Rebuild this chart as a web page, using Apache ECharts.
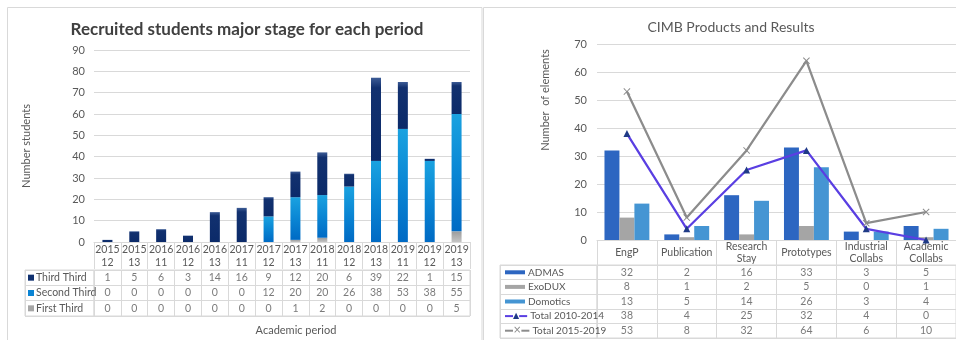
<!DOCTYPE html>
<html>
<head>
<meta charset="utf-8">
<script src="https://cdn.jsdelivr.net/npm/echarts@6/dist/echarts.min.js"></script>
<style>
  html, body { margin: 0; padding: 0; background: #fff; }
  #main { width: 956px; height: 340px; }
</style>
</head>
<body>
<div id="main"></div>
<script>
// ---- left chart data ----
const periodYears = ['2015', '2015', '2016', '2016', '2016', '2017', '2017', '2017', '2018', '2018', '2018', '2019', '2019', '2019']
const periodTerms = ['12', '13', '11', '12', '13', '11', '12', '13', '11', '12', '13', '11', '12', '13']
const thirdThird = [1, 5, 6, 3, 14, 16, 9, 12, 20, 6, 39, 22, 1, 15]
const secondThird = [0, 0, 0, 0, 0, 0, 12, 20, 20, 26, 38, 53, 38, 55]
const firstThird = [0, 0, 0, 0, 0, 0, 0, 1, 2, 0, 0, 0, 0, 5]
const studentTicks = {min: 0, max: 90, interval: 10}

// ---- right chart data ----
const products = ['EngP', 'Publication', 'Research\nStay', 'Prototypes', 'Industrial\nCollabs', 'Academic\nCollabs']
const admas = [32, 2, 16, 33, 3, 5]
const exodux = [8, 1, 2, 5, 0, 1]
const domotics = [13, 5, 14, 26, 3, 4]
const total1014 = [38, 4, 25, 32, 4, 0]
const total1519 = [53, 8, 32, 64, 6, 10]
const elementTicks = {min: 0, max: 70, interval: 10}

const periods = periodYears.map((y, i) => y + '\n' + periodTerms[i])

const FONT = 'Lato'
const TXT = '#595959'
const LINE = '#d9d9d9'
const TFS = 10.5 // 表格字号

// 渐变色（仿 Excel 填充）
const grad = (stops) => ({
  type: 'linear', x: 0, y: 0, x2: 0, y2: 1,
  colorStops: stops.map((c) => ({offset: c[0], color: c[1]}))
})
const colThird = grad([[0, '#3d5c96'], [0.12, '#12316f'], [1, '#0b2a69']])
const colSecond = grad([[0, '#1aa2e0'], [0.5, '#0a86d4'], [1, '#006ac4']])
const colFirst = grad([[0, '#9c9c9c'], [1, '#c4c4c4']])

// 表格行（左）
const leftRows = [
  {name: 'Third Third', values: thirdThird, key: '#10306f'},
  {name: 'Second Third', values: secondThird, key: '#0a84d4'},
  {name: 'First Third', values: firstThird, key: '#a6a6a6'},
]
// 表格行（右）
const rightRows = [
  {name: 'ADMAS', values: admas, color: '#2d66c1'},
  {name: 'ExoDUX', values: exodux, color: '#a5a5a5'},
  {name: 'Domotics', values: domotics, color: '#4595d3'},
  {name: 'Total 2010-2014', values: total1014, color: '#5a3fe2', marker: '#1f3a86'},
  {name: 'Total 2015-2019', values: total1519, color: '#8c8c8c', marker: '#8c8c8c'},
]

const cellData = (rows) => {
  const out = []
  rows.forEach((r, ri) => r.values.forEach((v, ci) => out.push([ci, ri, v])))
  return out
}

const tableXAxis = (gridIndex, data) => ({
  type: 'category', gridIndex, data,
  axisLine: {show: false}, axisTick: {show: false}, axisLabel: {show: false},
  splitLine: {show: true, interval: 0, lineStyle: {color: LINE}}
})
const tableYAxis = (gridIndex, data, label) => ({
  type: 'category', gridIndex, data, inverse: true,
  axisLine: {show: false}, axisTick: {show: false},
  axisLabel: label || {show: false},
  splitLine: {show: true, interval: 0, lineStyle: {color: LINE}}
})
const cellSeries = (xi, yi, rows) => ({
  type: 'scatter', xAxisIndex: xi, yAxisIndex: yi, silent: true,
  symbolSize: 0, data: cellData(rows),
  label: {
    show: true, position: 'inside', fontFamily: FONT, fontSize: TFS, color: TXT,
    formatter: (p) => String(p.value[2])
  }
})

// 左侧行标签（小方块 + 名称）
const leftRich = {t: {fontFamily: FONT, fontSize: TFS, color: TXT, padding: [0, 0, 0, 2]}}
leftRows.forEach((r, i) => { leftRich['k' + i] = {width: 6, height: 6, backgroundColor: r.key} })

// 右侧行标签（图例样式）
const rightRich = {t: {fontFamily: FONT, fontSize: 10, color: TXT, padding: [0, 0, 0, 3]}}
rightRows.forEach((r, i) => {
  if (r.marker) {
    rightRich['l' + i] = {width: 8, height: 2, backgroundColor: r.color}
    rightRich['m' + i] = {fontSize: i === 3 ? 8 : 10, color: r.marker, fontFamily: 'DejaVu Sans'}
  } else {
    rightRich['l' + i] = {width: 20, height: 4, backgroundColor: r.color}
  }
})

const productRich = {
  one: {fontFamily: FONT, fontSize: TFS, color: TXT, lineHeight: 24},
  two: {fontFamily: FONT, fontSize: TFS, color: TXT, lineHeight: 12}
}

const option = {
  animation: false,
  textStyle: {fontFamily: FONT},
  graphic: [
    {type: 'rect', shape: {x: 7.5, y: 7.5, width: 474.5, height: 345}, style: {fill: 'none', stroke: LINE, lineWidth: 1}},
    {type: 'rect', shape: {x: 483.5, y: 7.5, width: 480, height: 345}, style: {fill: 'none', stroke: LINE, lineWidth: 1}},
    {type: 'text', x: 296, y: 330, style: {text: 'Academic period', font: '11px Lato', fill: TXT, align: 'center', verticalAlign: 'middle'}},
    {type: 'text', x: 545, y: 100, rotation: Math.PI / 2, style: {text: 'Number  of elements', font: '11px Lato', fill: TXT, align: 'center', verticalAlign: 'middle'}}
  ],
  title: [
    {
      text: 'Recruited students major stage for each period',
      left: 242, top: 16, textAlign: 'center',
      textStyle: {fontFamily: FONT, fontSize: 17, fontWeight: 'bold', color: '#404040'}
    },
    {
      text: 'CIMB Products and Results',
      left: 726, top: 15, textAlign: 'center',
      textStyle: {fontFamily: FONT, fontSize: 14, fontWeight: 'normal', color: TXT}
    }
  ],
  grid: [
    {left: 94, right: 486, top: 50, bottom: 98},
    {left: 94, right: 486, top: 270, height: 46, show: true, borderColor: LINE, borderWidth: 1},
    {left: 25, width: 69, top: 270, height: 46, show: true, borderColor: LINE, borderWidth: 1},
    {left: 597, right: 0, top: 44, bottom: 100},
    {left: 597, right: 0, top: 265, height: 73, show: true, borderColor: LINE, borderWidth: 1},
    {left: 500, width: 97, top: 265, height: 73, show: true, borderColor: LINE, borderWidth: 1}
  ],
  xAxis: [
    {
      type: 'category', gridIndex: 0, data: periods,
      axisLine: {lineStyle: {color: LINE}},
      axisTick: {show: true, interval: 0, length: 27, lineStyle: {color: LINE}},
      axisLabel: {interval: 0, fontFamily: FONT, fontSize: TFS, color: TXT, lineHeight: 13, margin: 1}
    },
    tableXAxis(1, periods),
    tableXAxis(2, ['']),
    {
      type: 'category', gridIndex: 3, data: products,
      axisLine: {lineStyle: {color: LINE}},
      axisTick: {show: true, interval: 0, length: 25, lineStyle: {color: LINE}},
      axisLabel: {
        interval: 0, margin: 1, rich: productRich,
        formatter: (v) => v.indexOf('\n') >= 0
          ? v.split('\n').map(s => '{two|' + s + '}').join('\n')
          : '{one|' + v + '}'
      }
    },
    tableXAxis(4, products),
    tableXAxis(5, [''])
  ],
  yAxis: [
    {
      type: 'value', gridIndex: 0, ...studentTicks,
      name: 'Number students', nameLocation: 'middle', nameGap: 62,
      nameTextStyle: {fontFamily: FONT, fontSize: 11, color: TXT},
      axisLine: {show: false}, axisTick: {show: false},
      axisLabel: {fontFamily: FONT, fontSize: 11, color: TXT, margin: 9},
      splitLine: {lineStyle: {color: LINE}}
    },
    tableYAxis(1, leftRows.map(r => r.name)),
    tableYAxis(2, leftRows.map(r => r.name), {
      show: true, inside: true, interval: 0, hideOverlap: false, margin: 3, rich: leftRich,
      formatter: (v, i) => '{k' + i + '|}{t|' + v + '}'
    }),
    {
      type: 'value', gridIndex: 3, ...elementTicks,
      axisLine: {show: false}, axisTick: {show: false},
      axisLabel: {fontFamily: FONT, fontSize: 11, color: TXT, margin: 10},
      splitLine: {lineStyle: {color: LINE}}
    },
    tableYAxis(4, rightRows.map(r => r.name)),
    tableYAxis(5, rightRows.map(r => r.name), {
      show: true, inside: true, interval: 0, hideOverlap: false, margin: 5, rich: rightRich,
      formatter: (v, i) => rightRows[i].marker
        ? '{l' + i + '|}{m' + i + '|' + (i === 3 ? '▲' : '×') + '}{l' + i + '|}{t|' + v + '}'
        : '{l' + i + '|}{t|' + v + '}'
    })
  ],
  series: [
    // 左：堆叠柱
    {name: 'First Third', type: 'bar', stack: 's', xAxisIndex: 0, yAxisIndex: 0, data: firstThird, barWidth: 10, itemStyle: {color: colFirst}},
    {name: 'Second Third', type: 'bar', stack: 's', xAxisIndex: 0, yAxisIndex: 0, data: secondThird, barWidth: 10, itemStyle: {color: colSecond}},
    {name: 'Third Third', type: 'bar', stack: 's', xAxisIndex: 0, yAxisIndex: 0, data: thirdThird, barWidth: 10, itemStyle: {color: colThird}},
    cellSeries(1, 1, leftRows),
    // 右：分组柱 + 折线
    {name: 'ADMAS', type: 'bar', xAxisIndex: 3, yAxisIndex: 3, data: admas, barGap: '0%', barCategoryGap: '25%', itemStyle: {color: rightRows[0].color}},
    {name: 'ExoDUX', type: 'bar', xAxisIndex: 3, yAxisIndex: 3, data: exodux, barGap: '0%', barCategoryGap: '25%', itemStyle: {color: rightRows[1].color}},
    {name: 'Domotics', type: 'bar', xAxisIndex: 3, yAxisIndex: 3, data: domotics, barGap: '0%', barCategoryGap: '25%', itemStyle: {color: rightRows[2].color}},
    {
      name: 'Total 2015-2019', type: 'line', xAxisIndex: 3, yAxisIndex: 3, data: total1519,
      symbol: 'path://M0,1L1,0L5,4L9,0L10,1L6,5L10,9L9,10L5,6L1,10L0,9L4,5Z', symbolSize: 7,
      lineStyle: {color: '#8c8c8c', width: 2.25}, itemStyle: {color: '#8c8c8c'}
    },
    {
      name: 'Total 2010-2014', type: 'line', xAxisIndex: 3, yAxisIndex: 3, data: total1014,
      symbol: 'triangle', symbolSize: 7,
      lineStyle: {color: '#5a3fe2', width: 2.25}, itemStyle: {color: '#1f3a86'}
    },
    cellSeries(4, 4, rightRows)
  ]
}

const chart = echarts.init(document.getElementById('main'), null, {renderer: 'canvas'})
chart.setOption(option)
</script>
</body>
</html>
